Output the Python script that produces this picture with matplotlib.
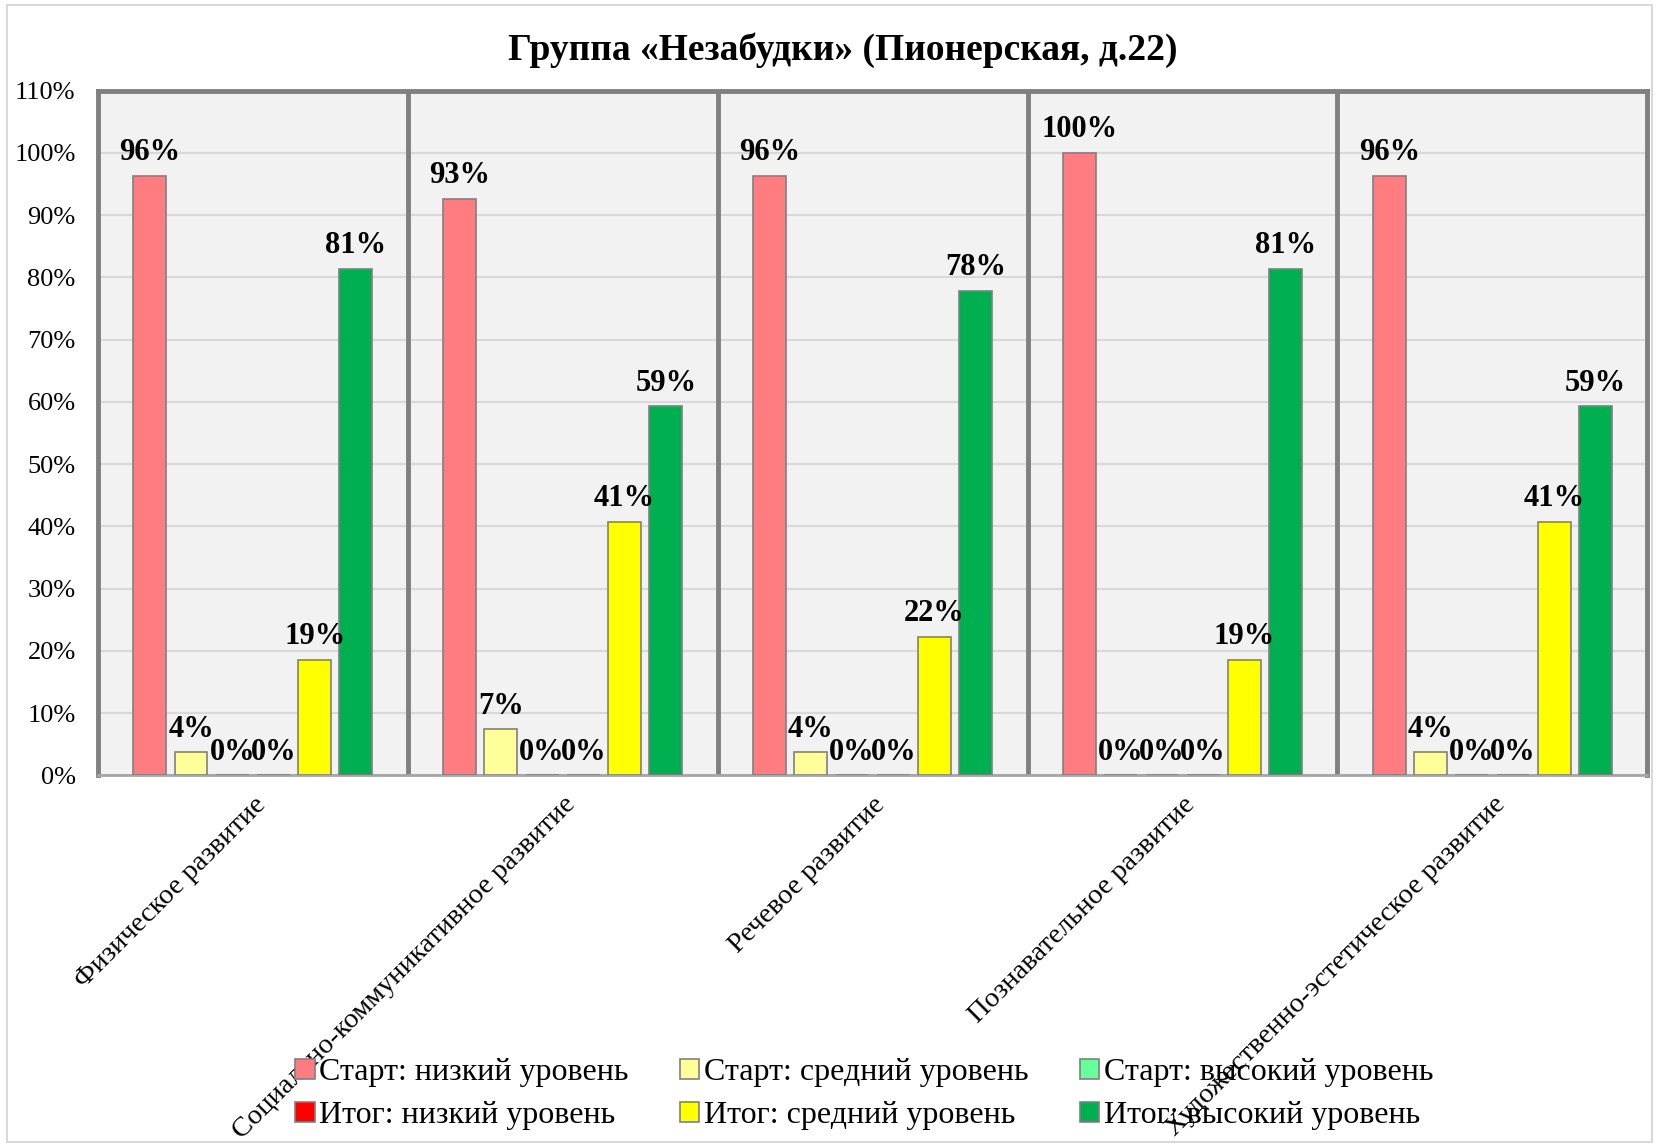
import numpy as np
import matplotlib
matplotlib.use("Agg")
from matplotlib import pyplot as plt
from matplotlib.patches import Rectangle
from matplotlib.ticker import FuncFormatter, MultipleLocator

categories = [
    "Физическое развитие",
    "Социально-коммуникативное развитие",
    "Речевое развитие",
    "Познавательное развитие",
    "Художественно-эстетическое развитие",
]
series_names = [
    "Старт: низкий уровень",
    "Старт: средний уровень",
    "Старт: высокий уровень",
    "Итог: низкий уровень",
    "Итог: средний уровень",
    "Итог: высокий уровень",
]
start_low = [0.963, 0.926, 0.963, 1.000, 0.963]
start_mid = [0.037, 0.074, 0.037, 0.000, 0.037]
start_high = [0.0, 0.0, 0.0, 0.0, 0.0]
final_low = [0.0, 0.0, 0.0, 0.0, 0.0]
final_mid = [0.186, 0.407, 0.222, 0.186, 0.407]
final_high = [0.814, 0.593, 0.778, 0.814, 0.593]
# which zero labels excel drew (index per category)
show_zero = [[2, 3], [2, 3], [2, 3], [1, 2, 3], [2, 3]]

colors = ["#FF7C80", "#FFFF99", "#66FF99", "#FF0000", "#FFFF00", "#00B050"]
values = [start_low, start_mid, start_high, final_low, final_mid, final_high]

serif = ["Liberation Serif", "DejaVu Serif"]
plt.rcParams["font.family"] = serif

fig = plt.figure(figsize=(16.59, 11.47), dpi=100)
ax = fig.add_axes([0.059, 0.324, 0.934, 0.597])
ax.set_facecolor("#F2F2F2")

x = np.arange(len(categories))
step = 0.133
width = 0.106
for i, (vals, col, name) in enumerate(zip(values, colors, series_names)):
    pos = x + (i - 2.5) * step
    ax.bar(pos, vals, width, color=col, edgecolor="#808080", linewidth=1.2,
           label=name, zorder=3)
    for j, (p, v) in enumerate(zip(pos, vals)):
        if v == 0 and i not in show_zero[j]:
            continue
        ax.text(p, v + 0.014, "{:.0f}%".format(v * 100), ha="center",
                va="bottom", fontsize=22, fontweight="bold", zorder=4)

ax.set_xlim(-0.5, len(categories) - 0.5)
ax.set_ylim(0, 1.1)
ax.yaxis.set_major_locator(MultipleLocator(0.1))
ax.yaxis.set_major_formatter(FuncFormatter(lambda v, _: "{:.0f}%".format(v * 100)))
ax.grid(axis="y", color="#D9D9D9", linewidth=1.5, zorder=1)
for b in np.arange(0.5, len(categories) - 0.5, 1):
    ax.axvline(b, color="#808080", linewidth=3.5, zorder=2)

for side in ["left", "top", "right"]:
    ax.spines[side].set_color("#808080")
    ax.spines[side].set_linewidth(3.5)
ax.spines["bottom"].set_color("#A6A6A6")
ax.spines["bottom"].set_linewidth(2)

ax.tick_params(axis="y", length=0, labelsize=19, pad=16)
ax.tick_params(axis="x", length=0, pad=12)
ax.set_xticks(x)
ax.set_xticklabels(categories, rotation=45, ha="right",
                   rotation_mode="anchor", fontsize=20.5)

fig.suptitle("Группа «Незабудки» (Пионерская, д.22)", fontsize=27,
             fontweight="bold", y=0.972, x=0.508)

handles, labels = ax.get_legend_handles_labels()
order = [0, 3, 1, 4, 2, 5]
fig.legend([handles[k] for k in order], [labels[k] for k in order],
           loc="center", bbox_to_anchor=(0.521, 0.046), ncol=3,
           frameon=False, fontsize=23, handlelength=0.6, handleheight=0.6,
           handletextpad=0.15, columnspacing=1.6, labelspacing=0.45)

fig.patches.append(Rectangle((0.004, 0.004), 0.992, 0.992, transform=fig.transFigure,
                             fill=False, edgecolor="#D9D9D9", linewidth=1.5))

fig.savefig("out.png", dpi=100)
